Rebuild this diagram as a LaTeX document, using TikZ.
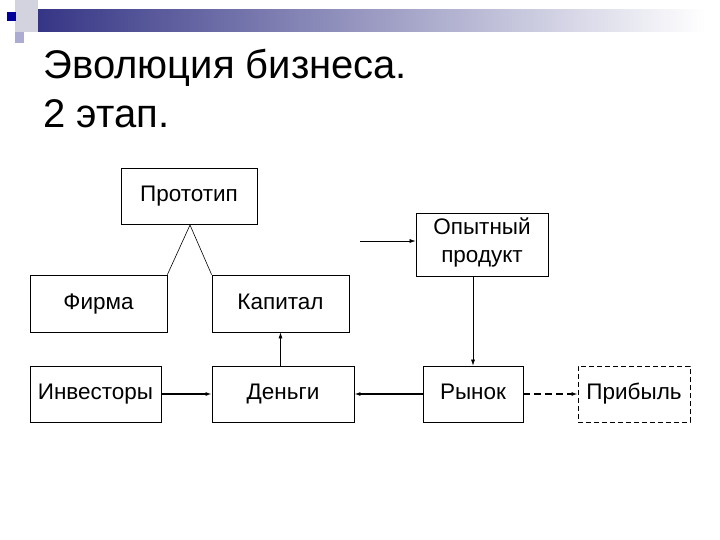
\documentclass[tikz,border=0pt]{standalone}
\usepackage{fontspec}
\setmainfont{Liberation Sans}
\usetikzlibrary{arrows.meta}
\begin{document}
\begin{tikzpicture}[x=1pt,y=-1pt,
  box/.style={draw,line width=0.8pt,inner sep=0pt,font=\fontsize{22.5}{28}\selectfont,align=center,execute at begin node=\strut},
  arr/.style={-{Latex[length=6pt,width=4pt]},line width=0.6pt},
  thk/.style={-{Latex[length=6pt,width=4pt]},line width=1.6pt}]
\useasboundingbox (0,0) rectangle (720,540);
\shade[left color=blue!40!black!80, right color=white] (30,10) rectangle (705,32);
\fill[blue!15!gray!30] (15,0) rectangle (38,32);
\fill[blue!30!gray!50] (15,32) rectangle (24,43);
\fill[blue!60!black] (7,12) rectangle (16,21);
\node[anchor=north west,align=left,font=\fontsize{40}{49}\selectfont] (title) at (40,46) {Эволюция бизнеса.\\2 этап.};
\node[box,minimum width=136pt,minimum height=56pt] (proto) at (189,196) {Прототип};
\node[box,minimum width=132pt,minimum height=63pt] (opyt) at (482,244.5) {Опытный\\\strut продукт};
\node[box,minimum width=137pt,minimum height=57pt] (firma) at (98.5,303.5) {Фирма};
\node[box,minimum width=137pt,minimum height=57pt] (kap) at (280.5,303.5) {Капитал};
\node[box,minimum width=131pt,minimum height=56pt] (inv) at (95.5,394) {Инвесторы};
\node[box,minimum width=142pt,minimum height=56pt] (den) at (283,394) {Деньги};
\node[box,minimum width=100pt,minimum height=56pt] (ryn) at (473,394) {Рынок};
\node[box,dash pattern=on 5pt off 3pt,minimum width=112pt,minimum height=56pt] (prib) at (634,394) {Прибыль};
\coordinate (apex) at (190,225);
\draw[line width=0.6pt] (firma.north east) -- (apex) -- (kap.north west);
\coordinate (free) at (360,241);
\draw[arr] (free) -- (opyt.west|-free);
\draw[arr] (opyt.south-|ryn) -- (ryn.north);
\draw[arr] (den.north-|kap) -- (kap.south);
\draw[thk] (inv) -- (den);
\draw[thk] (ryn) -- (den);
\draw[thk,dash pattern=on 7pt off 4pt] (ryn) -- (prib);
\end{tikzpicture}
\end{document}
